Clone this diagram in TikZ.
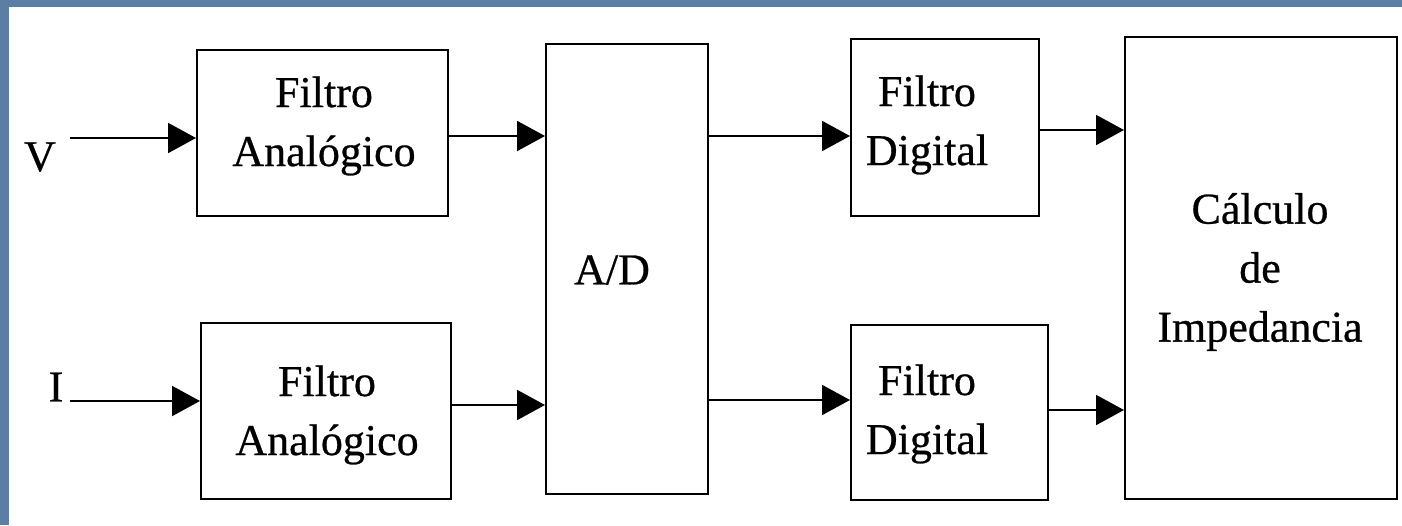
\documentclass[tikz,border=0pt]{standalone}
\usepackage{fontspec}
\setmainfont{Liberation Serif}
\newfontface\diagfont{Liberation Serif}[FakeBold=0.6]
\usetikzlibrary{arrows.meta}
\definecolor{bgblue}{RGB}{92,126,165}
\begin{document}
\begin{tikzpicture}[x=1pt,y=-1pt,
  box/.style={draw=black,line width=2pt,inner sep=0pt},
  lbl/.style={font=\diagfont\fontsize{44}{59}\selectfont,align=center,inner sep=0pt},
  arr/.style={line width=2pt,-{Triangle[length=28pt,width=30pt]}}]
\fill[bgblue] (0,0) rectangle (1402,525);
\fill[white] (9,7) rectangle (1402,525);
\useasboundingbox (0,0) rectangle (1402,525);
% boxes
\node[box,minimum width=251pt,minimum height=166pt] (fa1) at (322.5,133) {};
\node[box,minimum width=250pt,minimum height=176pt] (fa2) at (326,411) {};
\node[box,minimum width=162pt,minimum height=450pt] (ad) at (627,269) {};
\node[box,minimum width=188pt,minimum height=177pt] (fd1) at (945,127.5) {};
\node[box,minimum width=197pt,minimum height=175pt] (fd2) at (949.5,412.5) {};
\node[box,minimum width=272pt,minimum height=462pt] (calc) at (1261,268) {};
% texts
\node[lbl] (t1) at (324,126) {Filtro\\Analógico};
\node[lbl] (t2) at (327,415) {Filtro\\Analógico};
\node[lbl] (tad) at (612,270) {A/D};
\node[lbl] (td1) at (927,125) {Filtro\\Digital};
\node[lbl] (td2) at (927,414) {Filtro\\Digital};
\node[lbl] (tc) at (1260,272) {Cálculo\\de\\Impedancia};
\node[lbl] (v) at (40,157) {V};
\node[lbl] (i) at (56,387) {I};
% inputs
\coordinate (vs) at (70,138);
\coordinate (is) at (70,401);
\draw[arr] (vs) -- (fa1.west |- vs);
\draw[arr] (is) -- (fa2.west |- is);
% analog to A/D
\draw[arr] (fa1.east |- 0,136) -- (ad.west |- 0,136);
\draw[arr] (fa2.east |- 0,405) -- (ad.west |- 0,405);
% A/D to digital
\draw[arr] (ad.east |- 0,136) -- (fd1.west |- 0,136);
\draw[arr] (ad.east |- 0,400) -- (fd2.west |- 0,400);
% digital to calc
\draw[arr] (fd1.east |- 0,130) -- (calc.west |- 0,130);
\draw[arr] (fd2.east |- 0,410) -- (calc.west |- 0,410);
\end{tikzpicture}
\end{document}
